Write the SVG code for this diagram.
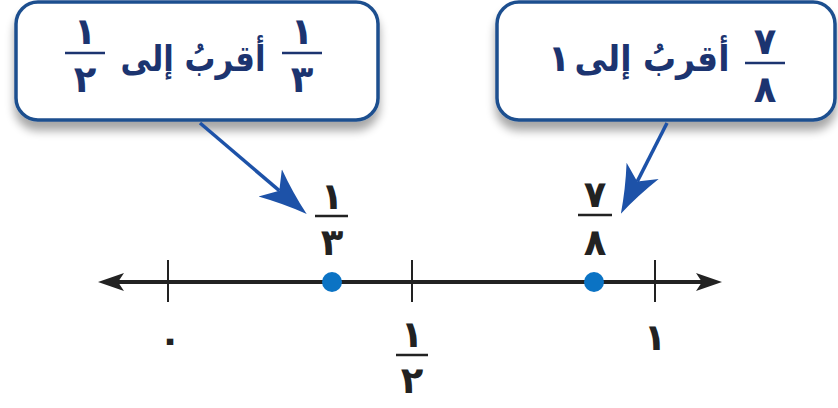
<svg xmlns="http://www.w3.org/2000/svg" width="838" height="408" viewBox="0 0 838 408">
<style>
.box{fill:#ffffff;stroke:#1f4f8f;stroke-width:3.5}
.ar{font-family:"DejaVu Sans",sans-serif;font-weight:bold;fill:#1c3470}
.dg{font-family:"DejaVu Sans",sans-serif;font-weight:bold;fill:#1c3470;font-size:37px;text-anchor:middle}
.lbl{font-family:"DejaVu Sans",sans-serif;font-weight:bold;fill:#222222;font-size:37px;text-anchor:middle}
.bar{stroke-width:2.5}
.ptr{stroke:#1d52a8;stroke-width:3.5;fill:none}
.axis{stroke:#222222;stroke-width:4}
.tick{stroke:#222222;stroke-width:2}
.dot{fill:#0b73c4}
</style>
<defs>
<filter id="sh" x="-10%" y="-10%" width="120%" height="140%">
<feGaussianBlur in="SourceAlpha" stdDeviation="5"/>
<feOffset dx="0" dy="9" result="b"/>
<feComponentTransfer><feFuncA type="linear" slope="0.35"/></feComponentTransfer>
<feMerge><feMergeNode/><feMergeNode in="SourceGraphic"/></feMerge>
</filter>
<marker id="bh" markerUnits="userSpaceOnUse" viewBox="0 0 48 38" markerWidth="48" markerHeight="38" refX="12" refY="19" orient="auto">
<path d="M0,1 Q24,12 48,19 Q24,26 0,37 L12,19 Z" fill="#1d52a8"/>
</marker>
<marker id="kh" markerUnits="userSpaceOnUse" viewBox="0 0 26 18" markerWidth="26" markerHeight="18" refX="6" refY="9" orient="auto-start-reverse">
<path d="M0,0 L26,9 L0,18 L6,9 Z" fill="#222222"/>
</marker>
</defs>

<g id="callout-left">
<rect class="box" x="16" y="2" width="362" height="118" rx="22" filter="url(#sh)"/>
<text class="dg" x="302" y="44">١</text>
<line class="bar" x1="282" y1="53" x2="322" y2="53" stroke="#1c3470"/>
<text class="dg" x="302" y="92">٣</text>
<text class="ar" x="193" y="71" font-size="36" text-anchor="middle" direction="rtl" textLength="145" lengthAdjust="spacingAndGlyphs">أقربُ إلى</text>
<text class="dg" x="85" y="44">١</text>
<line class="bar" x1="65" y1="53" x2="105" y2="53" stroke="#1c3470"/>
<text class="dg" x="85" y="92">٢</text>
</g>

<g id="callout-right">
<rect class="box" x="497" y="2" width="338" height="118" rx="22" filter="url(#sh)"/>
<text class="dg" x="765" y="54">٧</text>
<line class="bar" x1="745" y1="63" x2="785" y2="63" stroke="#1c3470"/>
<text class="dg" x="765" y="102">٨</text>
<text class="ar" x="652" y="71" font-size="36" text-anchor="middle" direction="rtl" textLength="155" lengthAdjust="spacingAndGlyphs">أقربُ إلى</text>
<text class="dg" x="559" y="71" font-size="34">١</text>
</g>

<g id="number-line">
<line class="axis" x1="118" y1="282" x2="702" y2="282" marker-start="url(#kh)" marker-end="url(#kh)"/>
<line class="tick" x1="168" y1="260" x2="168" y2="302"/>
<line class="tick" x1="412" y1="260" x2="412" y2="302"/>
<line class="tick" x1="655" y1="260" x2="655" y2="302"/>
</g>

<g id="point-third">
<circle class="dot" cx="332" cy="282" r="10"/>
<text class="lbl" x="332" y="209">١</text>
<line class="bar" x1="315" y1="216" x2="348" y2="216" stroke="#222222"/>
<text class="lbl" x="332" y="255">٣</text>
</g>

<g id="point-seven-eighths">
<circle class="dot" cx="594" cy="282" r="10"/>
<text class="lbl" x="595" y="207">٧</text>
<line class="bar" x1="578" y1="215" x2="612" y2="215" stroke="#222222"/>
<text class="lbl" x="595" y="255">٨</text>
</g>

<g id="label-zero">
<text class="lbl" x="170" y="352">٠</text>
</g>
<g id="label-half">
<text class="lbl" x="412" y="347">١</text>
<line class="bar" x1="396" y1="355" x2="428" y2="355" stroke="#222222"/>
<text class="lbl" x="412" y="393">٢</text>
</g>
<g id="label-one">
<text class="lbl" x="655" y="350">١</text>
</g>

<g id="connectors">
<line class="ptr" x1="200" y1="123" x2="279.3" y2="190.7" marker-end="url(#bh)"/>
<line class="ptr" x1="667" y1="123" x2="637.2" y2="181.6" marker-end="url(#bh)"/>
</g>
</svg>
